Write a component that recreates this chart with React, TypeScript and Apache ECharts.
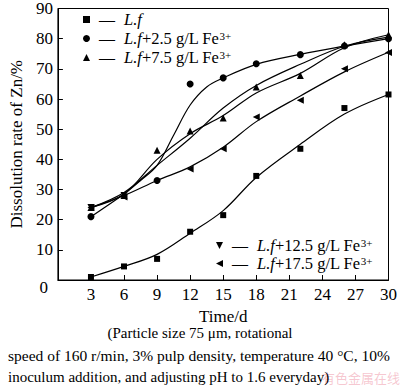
import React, { useEffect, useRef } from "react";
import * as echarts from "echarts";

const days = [3, 6, 9, 12, 15, 18, 22, 26, 30];

// measured points (markers)
const lfMarks = [1, 4.5, 7, 16, 21.5, 34.5, 43.5, 57, 61.5];
const fe25Marks = [21, null, 33, 65, 67, 71.7, 74.7, 77.6, 80];
const fe75Marks = [24, 28, 43, 49.4, 53.7, 64, 67.8, 78, 81.3];
const fe125Marks = [24, 28, null, null, null, null, null, null, null];
const fe175Marks = [24, 27.5, null, 36.8, 43.5, 54, 59.6, 70, 75.4];

// fitted curves: [day, value]
const lfFit = [[3, 1], [6, 4.5], [9, 8.5], [12, 15.5], [15, 23], [18, 34], [22, 45], [26, 55], [30, 61.5]];
const fe25Fit = [[3, 21], [6, 28.5], [7.5, 33], [9, 38], [10.5, 48], [12, 58], [13.5, 64], [15, 67], [18, 71.5], [22, 74.8], [26, 77.5], [30, 80]];
const fe75Fit = [[3, 24], [6, 28.5], [9, 40], [12, 48.5], [15, 54.5], [18, 62], [22, 68.5], [26, 77], [30, 81.3]];
const fe125Fit = [[3, 24], [6, 29], [9, 38], [12, 47], [15, 57], [18, 64.5], [22, 71.5], [26, 77.5], [30, 80.5]];
const fe175Fit = [[3, 24], [6, 28], [9, 33], [12, 37.5], [15, 44], [18, 52.5], [22, 61], [26, 69], [30, 75.5]];

const names = [
  "L.f",
  "L.f+2.5 g/L Fe3+",
  "L.f+7.5 g/L Fe3+",
  "L.f+12.5 g/L Fe3+",
  "L.f+17.5 g/L Fe3+",
];

const FONT = "Liberation Serif";
const INK = "#000";
const DOWN = "path://M0,0 L10,0 L5,10 Z";
const LEFT = "path://M10,0 L10,10 L0,5 Z";

export default function App() {
  const ref = useRef<HTMLDivElement>(null);
  useEffect(() => {
    if (!ref.current) return;
    const chart = echarts.init(ref.current, undefined, { renderer: "svg" });
    const pair = (arr: (number | null)[]) => days.map((d, i) => [d, arr[i]]);
    const scatter = (name: string, arr: (number | null)[], symbol: string, size: number) => ({
      name,
      type: "scatter",
      data: pair(arr).filter((p) => p[1] !== null),
      symbol,
      symbolSize: size,
      itemStyle: { color: INK, opacity: 1 },
      z: 3,
    });
    const fit = (data: number[][]) => ({
      type: "line",
      data,
      smooth: 0.35,
      showSymbol: false,
      symbol: "none",
      lineStyle: { color: INK, width: 1.2 },
      z: 2,
    });
    const rich = {
      d: { fontFamily: FONT, fontSize: 16, color: INK, padding: [0, 9, 0, 4], lineHeight: 16 },
      i: { fontFamily: FONT, fontSize: 16.5, color: INK, fontStyle: "italic", lineHeight: 16 },
      n: { fontFamily: FONT, fontSize: 16.5, color: INK, lineHeight: 16 },
      s: { fontFamily: FONT, fontSize: 11, color: INK, verticalAlign: "top", lineHeight: 12 },
    };
    const legendFmt = (name: string) => {
      const rest = name.slice(3);
      if (!rest) return "{d|—}{i|L.f}";
      const base = rest.replace("3+", "");
      return "{d|—}{i|L.f}{n|" + base + "}{s|3+}";
    };
    const leg = (data: any[], left: number, top: number, gap: number) => ({
      data,
      orient: "vertical",
      left,
      top,
      itemWidth: 7,
      itemHeight: 7,
      itemGap: gap,
      formatter: legendFmt,
      textStyle: { rich, lineHeight: 16 },
      selectedMode: false,
    });
    chart.setOption({
      animation: false,
      grid: {
        left: 48,
        right: 9,
        top: 5,
        bottom: 108,
        show: true,
        borderColor: INK,
        borderWidth: 1,
      },
      legend: [
        leg(names.slice(0, 3), 78, 6, 2),
        leg([{ name: names[3], icon: DOWN }, { name: names[4], icon: LEFT }], 211, 232, 1),
      ],
      xAxis: {
        type: "value",
        min: 0,
        max: 30,
        interval: 3,
        name: "Time/d",
        nameLocation: "middle",
        nameGap: 26,
        nameTextStyle: { fontFamily: FONT, fontSize: 17, color: INK },
        axisLine: { lineStyle: { color: INK } },
        axisTick: { inside: true, length: 5, lineStyle: { color: INK } },
        splitLine: { show: false },
        axisLabel: {
          fontFamily: FONT,
          fontSize: 17,
          color: INK,
          margin: 6,
          formatter: (v: number) => (v === 0 ? "" : String(v)),
        },
      },
      yAxis: {
        type: "value",
        min: 0,
        max: 90,
        interval: 10,
        name: "Dissolution rate of Zn/%",
        nameLocation: "middle",
        nameGap: 29,
        nameTextStyle: { fontFamily: FONT, fontSize: 17, color: INK },
        axisLine: { show: true, lineStyle: { color: INK } },
        axisTick: { show: true, inside: true, length: 5, lineStyle: { color: INK } },
        splitLine: { show: false },
        axisLabel: {
          fontFamily: FONT,
          fontSize: 17,
          color: INK,
          margin: 5,
          formatter: (v: number) => (v === 0 ? "{z|0}" : String(v)),
          rich: { z: { fontFamily: FONT, fontSize: 17, color: INK, padding: [14, 5, 0, 0] } },
        },
      },
      series: [
        fit(lfFit),
        fit(fe25Fit),
        fit(fe75Fit),
        fit(fe125Fit),
        fit(fe175Fit),
        scatter(names[0], lfMarks, "rect", 6),
        scatter(names[1], fe25Marks, "circle", 7),
        scatter(names[2], fe75Marks, "triangle", 7),
        scatter(names[3], fe125Marks, DOWN, 7),
        scatter(names[4], fe175Marks, LEFT, 7),
      ],
      graphic: [
        {
          type: "text",
          left: "center",
          top: 325,
          style: { text: "(Particle size 75 μm, rotational", font: "15px " + FONT, fill: INK },
        },
        {
          type: "text",
          left: 8,
          top: 347,
          style: { text: "speed of 160 r/min, 3% pulp density, temperature 40 °C, 10%", font: "15.5px " + FONT, fill: INK },
        },
        {
          type: "text",
          right: 0,
          top: 371,
          style: { text: "有色金属在线", font: "13px Noto Sans CJK SC", fill: "rgba(235,130,150,0.45)" },
        },
        {
          type: "text",
          left: 8,
          top: 369,
          style: { text: "inoculum addition, and adjusting pH to 1.6 everyday)", font: "15px " + FONT, fill: INK },
        },
      ],
    });
    return () => chart.dispose();
  }, []);
  return <div ref={ref} style={{ width: 400, height: 388, position: "absolute", left: 0, top: 0 }} />;
}
